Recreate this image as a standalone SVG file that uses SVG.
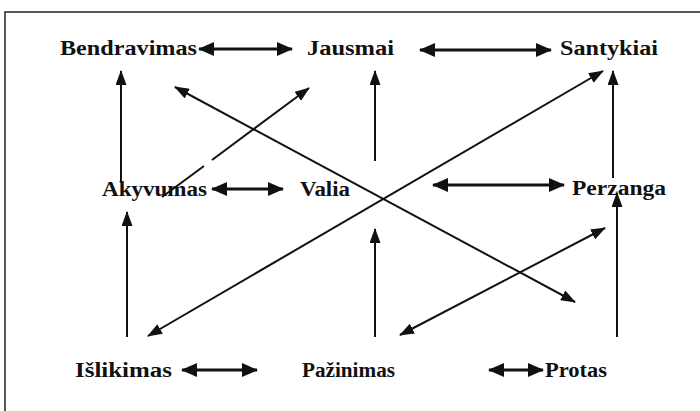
<svg xmlns="http://www.w3.org/2000/svg" width="700" height="411" viewBox="0 0 700 411">
<style>
.lbl{font-family:"Liberation Serif","Times New Roman",serif;font-weight:bold;font-size:20px;fill:#111}
.c{stroke:#111;stroke-width:2;fill:none}
.h{stroke:#111;stroke-width:3;fill:none}
</style>
<defs>
<marker id="a" viewBox="0 0 15 11" refX="14" refY="5.5" markerWidth="15" markerHeight="11" markerUnits="userSpaceOnUse" orient="auto-start-reverse">
<path d="M0,0 L15,5.5 L0,11 Z" fill="#111"/>
</marker>
<marker id="b" viewBox="0 0 16 14" refX="15" refY="7" markerWidth="16" markerHeight="14" markerUnits="userSpaceOnUse" orient="auto-start-reverse">
<path d="M0,0 L16,7 L0,14 Z" fill="#111"/>
</marker>
</defs>
<rect width="700" height="411" fill="#fff"/>
<path d="M5,411 V12 H700" stroke="#222" stroke-width="1.5" fill="none"/>
<g id="connectors">
<line class="h" x1="199" y1="49" x2="292" y2="49" marker-start="url(#b)" marker-end="url(#b)"/>
<line class="h" x1="420" y1="50" x2="551" y2="50" marker-start="url(#b)" marker-end="url(#b)"/>
<line class="h" x1="212" y1="189" x2="283" y2="189" marker-start="url(#b)" marker-end="url(#b)"/>
<line class="h" x1="433" y1="185" x2="564" y2="185" marker-start="url(#b)" marker-end="url(#b)"/>
<line class="h" x1="182" y1="370" x2="257" y2="370" marker-start="url(#b)" marker-end="url(#b)"/>
<line class="h" x1="489" y1="370" x2="543" y2="370" marker-start="url(#b)" marker-end="url(#b)"/>
<line class="c" x1="121" y1="183" x2="121" y2="71" marker-end="url(#a)"/>
<line class="c" x1="375" y1="161" x2="375" y2="71" marker-end="url(#a)"/>
<line class="c" x1="613" y1="178" x2="613" y2="71" marker-end="url(#a)"/>
<line class="c" x1="127" y1="337" x2="127" y2="212" marker-end="url(#a)"/>
<line class="c" x1="375" y1="337" x2="375" y2="229" marker-end="url(#a)"/>
<line class="c" x1="617" y1="337" x2="617" y2="193" marker-end="url(#a)"/>
<line class="c" x1="162" y1="197" x2="204" y2="166"/>
<line class="c" x1="212" y1="160" x2="309" y2="88" marker-end="url(#a)"/>
<line class="c" x1="175" y1="87" x2="575" y2="302" marker-start="url(#a)" marker-end="url(#a)"/>
<line class="c" x1="148" y1="336" x2="603" y2="71" marker-start="url(#a)" marker-end="url(#a)"/>
<line class="c" x1="400" y1="335" x2="605" y2="228" marker-start="url(#a)" marker-end="url(#a)"/>
</g>
<g id="n-bendravimas"><text class="lbl" x="60" y="55" textLength="137" lengthAdjust="spacingAndGlyphs">Bendravimas</text></g>
<g id="n-jausmai"><text class="lbl" x="307" y="55" textLength="87" lengthAdjust="spacingAndGlyphs">Jausmai</text></g>
<g id="n-santykiai"><text class="lbl" x="560" y="55" textLength="98" lengthAdjust="spacingAndGlyphs">Santykiai</text></g>
<g id="n-akyvumas"><text class="lbl" x="102" y="196" textLength="105" lengthAdjust="spacingAndGlyphs">Akyvumas</text></g>
<g id="n-valia"><text class="lbl" x="300" y="196" textLength="50" lengthAdjust="spacingAndGlyphs">Valia</text></g>
<g id="n-perzanga"><text class="lbl" x="572" y="195" textLength="94" lengthAdjust="spacingAndGlyphs">Perzanga</text></g>
<g id="n-islikimas"><text class="lbl" x="75" y="377" textLength="97" lengthAdjust="spacingAndGlyphs">Išlikimas</text></g>
<g id="n-pazinimas"><text class="lbl" x="302" y="377" textLength="93" lengthAdjust="spacingAndGlyphs">Pažinimas</text></g>
<g id="n-protas"><text class="lbl" x="545" y="377" textLength="62" lengthAdjust="spacingAndGlyphs">Protas</text></g>
</svg>
